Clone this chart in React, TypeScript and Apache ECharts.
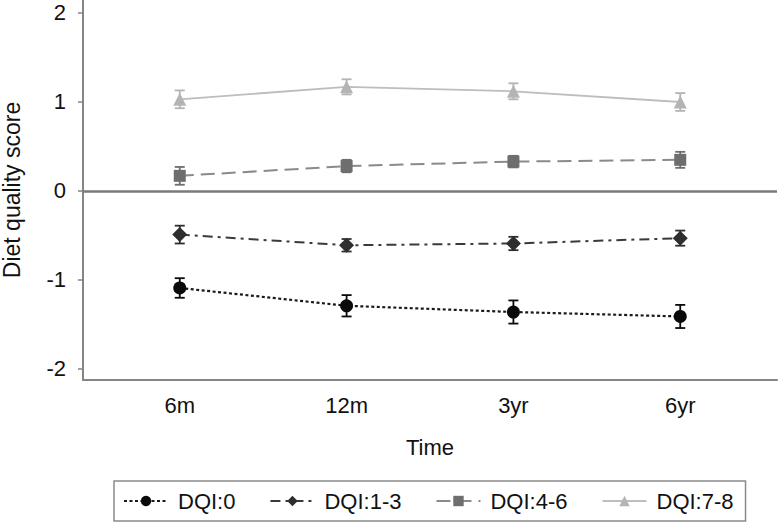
import React, { useEffect, useRef } from "react";
import * as echarts from "echarts";

const categories = ["6m", "12m", "3yr", "6yr"];
const yTicks = [-2, -1, 0, 1, 2];

const dqi0 = [-1.09, -1.29, -1.36, -1.41];
const dqi0Err = [0.11, 0.12, 0.13, 0.13];
const dqi13 = [-0.49, -0.61, -0.59, -0.53];
const dqi13Err = [0.1, 0.07, 0.075, 0.085];
const dqi46 = [0.17, 0.28, 0.33, 0.35];
const dqi46Err = [0.1, 0.07, 0.065, 0.09];
const dqi78 = [1.03, 1.17, 1.12, 1.0];
const dqi78Err = [0.1, 0.085, 0.09, 0.1];

const FONT = "'Liberation Sans', Arial, sans-serif";

type Def = {
  name: string;
  values: number[];
  errs: number[];
  color: string;
  lineColor: string;
  symbol: string;
  symbolSize: number;
  lineType: any;
  lineWidth: number;
};

const defs: Def[] = [
  { name: "DQI:0", values: dqi0, errs: dqi0Err, color: "#0a0a0a", lineColor: "#1a1a1a", symbol: "circle", symbolSize: 13, lineType: [3, 2.5], lineWidth: 2.2 },
  { name: "DQI:1-3", values: dqi13, errs: dqi13Err, color: "#2e2e2e", lineColor: "#3a3a3a", symbol: "diamond", symbolSize: 15, lineType: [10, 5, 3, 5], lineWidth: 2 },
  { name: "DQI:4-6", values: dqi46, errs: dqi46Err, color: "#6e6e6e", lineColor: "#8a8a8a", symbol: "rect", symbolSize: 12, lineType: [14, 7], lineWidth: 2 },
  { name: "DQI:7-8", values: dqi78, errs: dqi78Err, color: "#b4b4b4", lineColor: "#bdbdbd", symbol: "triangle", symbolSize: 13, lineType: "solid", lineWidth: 1.8 },
];

export default function App() {
  const ref = useRef<HTMLDivElement>(null);
  useEffect(() => {
    if (!ref.current) return;
    const chart = echarts.init(ref.current, undefined, { renderer: "svg" });
    const series: any[] = [];
    defs.forEach((d, si) => {
      series.push({
        type: "custom",
        name: d.name + " err",
        z: 3,
        silent: true,
        data: d.values.map((v, i) => [i, v - d.errs[i], v + d.errs[i]]),
        encode: { x: 0, y: [1, 2] },
        renderItem: (params: any, api: any) => {
          const x = api.value(0);
          const lo = api.coord([x, api.value(1)]);
          const hi = api.coord([x, api.value(2)]);
          const w = 5;
          const style = { stroke: d.color, lineWidth: 1.8 };
          return {
            type: "group",
            children: [
              { type: "line", shape: { x1: lo[0], y1: lo[1], x2: hi[0], y2: hi[1] }, style },
              { type: "line", shape: { x1: lo[0] - w, y1: lo[1], x2: lo[0] + w, y2: lo[1] }, style },
              { type: "line", shape: { x1: hi[0] - w, y1: hi[1], x2: hi[0] + w, y2: hi[1] }, style },
            ],
          };
        },
      });
      const s: any = {
        type: "line",
        name: d.name,
        z: 4,
        data: d.values.map((v, i) => [i, v]),
        symbol: d.symbol,
        symbolSize: d.symbolSize,
        showSymbol: true,
        itemStyle: { color: d.color, borderWidth: 0 },
        lineStyle: { color: d.lineColor, type: d.lineType, width: d.lineWidth },
      };
      if (si === 0) {
        s.markLine = {
          silent: true,
          symbol: "none",
          label: { show: false },
          lineStyle: { color: "#7a7a7a", width: 2.5, type: "solid" },
          data: [{ yAxis: 0 }],
          z: 1,
        };
      }
      series.push(s);
    });

    chart.setOption({
      animation: false,
      backgroundColor: "#ffffff",
      textStyle: { fontFamily: FONT },
      grid: { left: 83, top: 0, right: 2, bottom: 144, containLabel: false, outerBoundsMode: "none" },
      xAxis: {
        type: "value",
        min: -0.58,
        max: 3.58,
        name: "Time",
        nameLocation: "middle",
        nameGap: 56,
        nameTextStyle: { fontSize: 22, color: "#111", fontFamily: FONT },
        axisLine: { show: true, onZero: false, lineStyle: { color: "#858585", width: 2 } },
        axisTick: { show: false },
        splitLine: { show: false },
        axisLabel: {
          customValues: [0, 1, 2, 3],
          formatter: (v: number) => categories[Math.round(v)] ?? "",
          fontSize: 22,
          color: "#111",
          margin: 14,
          fontFamily: FONT,
        },
      },
      yAxis: {
        type: "value",
        min: -2.124,
        max: 2.146,
        name: "Diet quality score",
        nameLocation: "middle",
        nameGap: 60,
        nameTextStyle: { fontSize: 23, color: "#111", fontFamily: FONT },
        axisLine: { show: true, onZero: false, lineStyle: { color: "#858585", width: 2 } },
        axisTick: { show: true, customValues: yTicks, length: 5, lineStyle: { color: "#858585", width: 1.5 } },
        splitLine: { show: false },
        axisLabel: {
          customValues: yTicks,
          fontSize: 22,
          color: "#111",
          margin: 17,
          fontFamily: FONT,
        },
      },
      legend: {
        data: defs.map((d) => d.name),
        left: 114,
        top: 481,
        orient: "horizontal",
        itemWidth: 44,
        itemHeight: 13,
        itemGap: 34,
        padding: [9, 12, 9, 9],
        borderColor: "#8a8a8a",
        borderWidth: 1.5,
        textStyle: { fontSize: 22, color: "#111", fontFamily: FONT, padding: [0, 0, 0, 5] },
      },
      series,
    });
    return () => chart.dispose();
  }, []);
  return <div ref={ref} style={{ position: "fixed", left: 0, top: 0, width: 779, height: 524 }} />;
}
